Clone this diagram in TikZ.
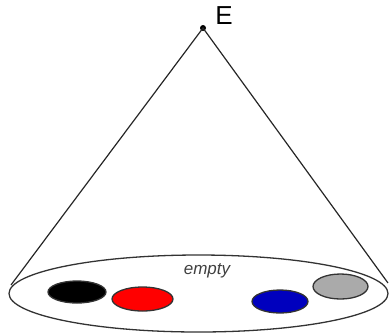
\documentclass[tikz,border=0pt]{standalone}
\usepackage{fontspec}
\setmainfont{Liberation Sans}
\begin{document}
\begin{tikzpicture}[x=1pt,y=-1pt,
  outl/.style={draw=black!80,line width=1.3pt},
  disc/.style={outl}]
\useasboundingbox (0,0) rectangle (390,333);
\fill[black] (203,28) circle (3);
\coordinate (apex) at (203,28);
\coordinate (L) at (11,285);
\coordinate (R) at (388,283);
\draw[line width=1.2pt,black!85] (L) -- (apex) -- (R);
\draw[outl] (198.5,293.5) ellipse [x radius=189.5, y radius=38.5];
\node[font=\fontsize{26}{28}\selectfont,inner sep=0pt] (E) at (224,16) {E};
\node[font=\fontsize{17}{19}\selectfont\itshape,text=black!75,inner sep=0pt] (empty) at (207,271) {empty};
\draw[disc,fill=black] (77,292) ellipse [x radius=29, y radius=11];
\draw[disc,fill=red] (142.5,299) ellipse [x radius=30.5, y radius=12];
\draw[disc,fill={rgb,255:red,0;green,0;blue,190}] (280,301.5) ellipse [x radius=28, y radius=11.5];
\draw[disc,fill={rgb,255:red,170;green,170;blue,170}] (340.5,286.5) ellipse [x radius=27.5, y radius=12.5];
\end{tikzpicture}
\end{document}
